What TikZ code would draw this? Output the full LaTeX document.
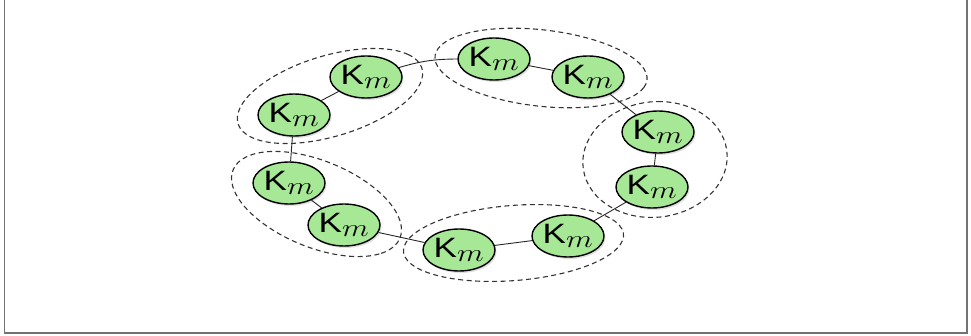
\documentclass[tikz,border=0pt]{standalone}
\usepackage{amsmath}
\usepackage{graphicx}
\usepackage{fontspec}
\newfontfamily\kfont{Liberation Sans}
\usepackage{tikz}
\usetikzlibrary{shapes.geometric, shadows, calc}
\definecolor{kgreen}{RGB}{166,232,150}
\newcommand{\km}{\scalebox{1.25}[1]{\kfont K$_{\textstyle m}$}}
\tikzset{
    x=1pt, y=1pt,
    kstate/.style={ellipse, draw, line width=1.4pt, fill=kgreen,
        minimum width=72pt, minimum height=42pt, inner sep=0pt,
        font=\fontsize{28}{30}\selectfont,
        drop shadow={opacity=0.25, shadow xshift=1.5pt, shadow yshift=-2pt}},
    kgroup/.style={draw=black!80, dash pattern=on 5pt off 3.5pt, line width=1.1pt},
    link/.style={draw=black!85, line width=0.9pt},
    frame/.style={draw=black!55, line width=1.5pt},
}

\begin{document}
\begin{tikzpicture}
    \useasboundingbox (0,0) rectangle (971,335);
    \draw[frame] (4.5,335) -- (4.5,2) -- (967,2) -- (967,335);

        \node[kstate] (a1) at (294,220) {\km};
        \node[kstate] (a2) at (366,258) {\km};
        \node[kstate] (b1) at (494,276) {\km};
        \node[kstate] (b2) at (588,258) {\km};
        \node[kstate] (c1) at (658,203) {\km};
        \node[kstate] (c2) at (652,148) {\km};
        \node[kstate] (d2) at (568,99) {\km};
        \node[kstate] (d1) at (459,85) {\km};
        \node[kstate] (e2) at (344,110) {\km};
        \node[kstate] (e1) at (289,152) {\km};

    % dashed rings round each pair
    \begin{scope}[shift={($(a1)!0.5!(a2)$)}, xscale=2, rotate=46.5]
        \draw[kgroup] (0,0) ellipse (57 and 34);
    \end{scope}
    \begin{scope}[shift={($(b1)!0.5!(b2)$)}, xscale=2, rotate=-21]
        \draw[kgroup] (0,0) ellipse (55 and 37);
    \end{scope}
    \begin{scope}[shift={($(c1)!0.5!(c2)$)}, xscale=2, rotate=87]
        \draw[kgroup] (0,0) ellipse (58 and 36);
    \end{scope}
    \begin{scope}[shift={($(d1)!0.5!(d2)$)}, xscale=2, rotate=14.4]
        \draw[kgroup] (0,0) ellipse (56 and 37);
    \end{scope}
    \begin{scope}[shift={($(e1)!0.5!(e2)$)}, xscale=2, rotate=-56.8]
        \draw[kgroup] (0,0) ellipse (59 and 33);
    \end{scope}

    \path[link]
        (a1) edge (a2)
        (a2) edge[bend left=8] (b1)
        (b1) edge (b2)
        (b2) edge (c1)
        (c1) edge (c2)
        (c2) edge (d2)
        (d2) edge (d1)
        (d1) edge (e2)
        (e2) edge (e1)
        (e1) edge (a1);
\end{tikzpicture}
\end{document}
